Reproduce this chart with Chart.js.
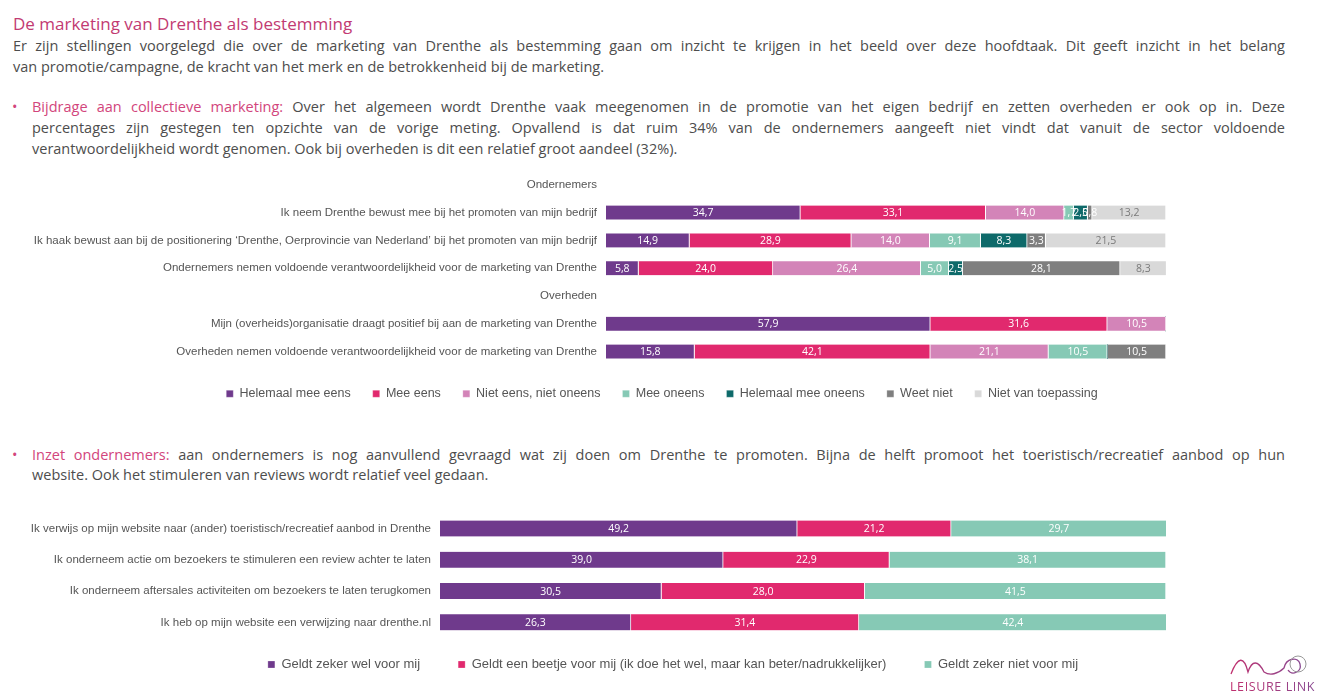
<!DOCTYPE html>
<html>
<head>
<meta charset="utf-8">
<script src="https://cdn.jsdelivr.net/npm/chart.js@4.4.0/dist/chart.umd.min.js"></script>
<style>
html, body { margin: 0; padding: 0; background: #fff; }
body { width: 1317px; height: 695px; overflow: hidden; position: relative; font-family: "Open Sans", sans-serif; color: #4d4d4d; }
.t { position: absolute; white-space: nowrap; font-size: 14.5px; line-height: 21px; }
.j { text-align: justify; text-align-last: justify; white-space: normal; }
.pink { color: #d2457c; }
.title { position: absolute; left: 13px; top: 13px; font-size: 17px; line-height: 22px; color: #c23a72; }
.bullet { position: absolute; left: 12px; font-size: 14.5px; line-height: 21px; color: #d2457c; }
.wrap { position: absolute; left: 0; width: 1317px; }
#logo { position: absolute; left: 1228px; top: 652px; }
</style>
</head>
<body>

<div class="title">De marketing van Drenthe als bestemming</div>
<div class="t j" style="left:13px;top:35px;width:1272px">Er zijn stellingen voorgelegd die over de marketing van Drenthe als bestemming gaan om inzicht te krijgen in het beeld over deze hoofdtaak. Dit geeft inzicht in het belang</div>
<div class="t" style="left:13px;top:56px">van promotie/campagne, de kracht van het merk en de betrokkenheid bij de marketing.</div>

<div class="bullet" style="top:96px">•</div>
<div class="t j" style="left:32px;top:96px;width:1253px"><span class="pink">Bijdrage aan collectieve marketing:</span> Over het algemeen wordt Drenthe vaak meegenomen in de promotie van het eigen bedrijf en zetten overheden er ook op in. Deze</div>
<div class="t j" style="left:32px;top:117px;width:1253px">percentages zijn gestegen ten opzichte van de vorige meting. Opvallend is dat ruim 34% van de ondernemers aangeeft niet vindt dat vanuit de sector voldoende</div>
<div class="t" style="left:32px;top:138px">verantwoordelijkheid wordt genomen. Ook bij overheden is dit een relatief groot aandeel (32%).</div>

<div class="wrap" style="top:155px;height:255px"><canvas id="chart1"></canvas></div>

<div class="bullet" style="top:444px">•</div>
<div class="t j" style="left:32px;top:444px;width:1253px"><span class="pink">Inzet ondernemers:</span> aan ondernemers is nog aanvullend gevraagd wat zij doen om Drenthe te promoten. Bijna de helft promoot het toeristisch/recreatief aanbod op hun</div>
<div class="t" style="left:32px;top:464px">website. Ook het stimuleren van reviews wordt relatief veel gedaan.</div>

<div class="wrap" style="top:497px;height:184px"><canvas id="chart2"></canvas></div>

<svg id="logo" width="89" height="43" viewBox="0 0 89 43">
  <defs>
    <linearGradient id="lg" x1="0" x2="1" y1="0" y2="0">
      <stop offset="0" stop-color="#c0306e"/>
      <stop offset="1" stop-color="#8a4a92"/>
    </linearGradient>
  </defs>
  <path d="M3 22 C10 4 16 4 20 20 C24 8 30 8 36 20 C42 24 50 22 56 16 C58 6 70 4 72 12 C74 20 64 24 60 18" fill="none" stroke="url(#lg)" stroke-width="1.3"/>
  <circle cx="70" cy="12" r="8" fill="none" stroke="#999" stroke-width="1"/>
  <text x="2" y="39" font-family="Open Sans" font-size="12.5" fill="url(#lg)" letter-spacing="0.6">LEISURE LINK</text>
</svg>

<script>
// chart 1: marketing van Drenthe
const cats1 = [
    'Ondernemers',
    'Ik neem Drenthe bewust mee bij het promoten van mijn bedrijf',
    'Ik haak bewust aan bij de positionering ‘Drenthe, Oerprovincie van Nederland’ bij het promoten van mijn bedrijf',
    'Ondernemers nemen voldoende verantwoordelijkheid voor de marketing van Drenthe',
    'Overheden',
    'Mijn (overheids)organisatie draagt positief bij aan de marketing van Drenthe',
    'Overheden nemen voldoende verantwoordelijkheid voor de marketing van Drenthe'
];
const series1Names = ['Helemaal mee eens', 'Mee eens', 'Niet eens, niet oneens', 'Mee oneens', 'Helemaal mee oneens', 'Weet niet', 'Niet van toepassing'];
const helemaalMeeEens   = [null, 34.7, 14.9, 5.8, null, 57.9, 15.8];
const meeEens           = [null, 33.1, 28.9, 24.0, null, 31.6, 42.1];
const nietEensNietOneens = [null, 14.0, 14.0, 26.4, null, 10.5, 21.1];
const meeOneens         = [null, 1.7, 9.1, 5.0, null, 0, 10.5];
const helemaalMeeOneens = [null, 2.5, 8.3, 2.5, null, 0, 0];
const weetNiet          = [null, 0.8, 3.3, 28.1, null, 0, 10.5];
const nietVanToepassing = [null, 13.2, 21.5, 8.3, null, 0, 0];
const colors1 = ['#6f3a8c', '#e1296e', '#d384b8', '#86c9b5', '#0e6a6a', '#7f7f7f', '#d9d9d9'];

// chart 2: inzet ondernemers
const cats2 = [
    'Ik verwijs op mijn website naar (ander) toeristisch/recreatief aanbod in Drenthe',
    'Ik onderneem actie om bezoekers te stimuleren een review achter te laten',
    'Ik onderneem aftersales activiteiten om bezoekers te laten terugkomen',
    'Ik heb op mijn website een verwijzing naar drenthe.nl'
];
const series2Names = ['Geldt zeker wel voor mij', 'Geldt een beetje voor mij (ik doe het wel, maar kan beter/nadrukkelijker)', 'Geldt zeker niet voor mij'];
const zekerWel  = [49.2, 39.0, 30.5, 26.3];
const beetje    = [21.2, 22.9, 28.0, 31.4];
const zekerNiet = [29.7, 38.1, 41.5, 42.4];
const colors2 = ['#6f3a8c', '#e1296e', '#86c9b5'];

const valueLabels = {
    id: 'valueLabels',
    afterDatasetsDraw(chart) {
        const ctx = chart.ctx;
        ctx.save();
        ctx.font = '10.5px "Open Sans"';
        ctx.textAlign = 'center';
        ctx.textBaseline = 'middle';
        chart.data.datasets.forEach((ds, i) => {
            chart.getDatasetMeta(i).data.forEach((bar, j) => {
                const v = ds.data[j];
                if (!v) return;
                ctx.fillStyle = ds.labelColor || '#fff';
                ctx.fillText(v.toFixed(1).replace('.', ','), (bar.x + bar.base) / 2, bar.y + 0.5);
            });
        });
        ctx.restore();
    }
};

function buildChart(id, labels, names, values, colors, o) {
    const datasets = names.map((n, i) => ({
        label: n,
        data: values[i],
        backgroundColor: colors[i],
        borderColor: '#fff',
        borderWidth: { left: 0, right: 1, top: 0, bottom: 0 },
        borderSkipped: false,
        barThickness: o.bar,
        labelColor: colors[i] === '#d9d9d9' ? '#7a7a7a' : '#fff'
    }));
    return new Chart(document.getElementById(id), {
        type: 'bar',
        data: { labels, datasets },
        options: {
            indexAxis: 'y',
            responsive: true,
            maintainAspectRatio: false,
            animation: false,
            layout: { padding: { left: o.padLeft, right: 0, top: 4, bottom: 0 } },
            scales: {
                x: { stacked: true, min: 0, max: 100, display: false },
                y: {
                    stacked: true,
                    grid: { display: false, drawTicks: false },
                    border: { display: false },
                    ticks: { padding: 9, color: '#555', font: { family: 'Liberation Sans', size: 11.5 } },
                    afterFit: s => { s.width = o.axisWidth; }
                },
                yr: {
                    position: 'right',
                    grid: { display: false, drawTicks: false },
                    border: { display: false },
                    ticks: { display: false },
                    afterFit: s => { s.width = 151; }
                }
            },
            plugins: {
                tooltip: { enabled: false },
                legend: {
                    position: 'bottom',
                    labels: {
                        boxWidth: 7,
                        boxHeight: 7,
                        padding: o.legendPad,
                        color: '#555',
                        font: { family: 'Liberation Sans', size: o.legendSize },
                        generateLabels: chart => Chart.defaults.plugins.legend.labels.generateLabels(chart)
                            .map((it, k, all) => {
                                if (k < all.length - 1) it.text += '\u00a0'.repeat(o.extraGap);
                                return it;
                            })
                    }
                }
            }
        },
        plugins: [valueLabels]
    });
}

buildChart('chart1', cats1, series1Names,
    [helemaalMeeEens, meeEens, nietEensNietOneens, meeOneens, helemaalMeeOneens, weetNiet, nietVanToepassing],
    colors1, { bar: 14, padLeft: 7, axisWidth: 599, legendSize: 12.5, legendPad: 22, extraGap: 0 });

buildChart('chart2', cats2, series2Names,
    [zekerWel, beetje, zekerNiet],
    colors2, { bar: 16, padLeft: 29, axisWidth: 411, legendSize: 13, legendPad: 20, extraGap: 5 });
</script>
</body>
</html>
